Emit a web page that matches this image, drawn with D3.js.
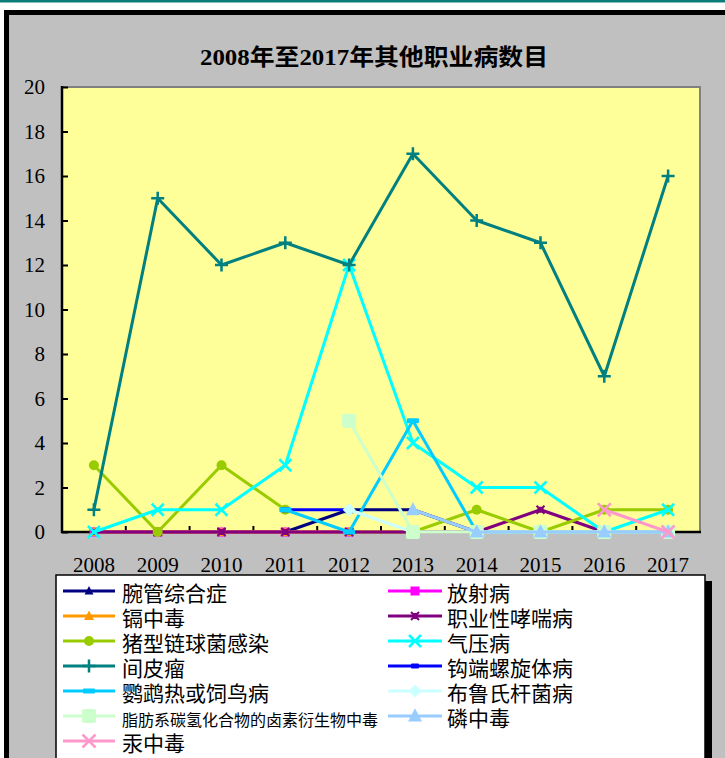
<!DOCTYPE html>
<html><head><meta charset="utf-8">
<script src="https://cdn.jsdelivr.net/npm/d3@7"></script>
<style>body{margin:0;background:#fff;} svg{display:block;}</style>
</head><body>
<svg id="c" width="725" height="758"></svg>
<script>
const title = "2008年至2017年其他职业病数目";
const years = ["2008","2009","2010","2011","2012","2013","2014","2015","2016","2017"];
const yTicks = [0,2,4,6,8,10,12,14,16,18,20];
const N = null;
const seriesNames = ["腕管综合症","放射病","镉中毒","职业性哮喘病","猪型链球菌感染","气压病","间皮瘤","钩端螺旋体病","鹦鹉热或饲鸟病","布鲁氏杆菌病","脂肪系碳氢化合物的卤素衍生物中毒","磷中毒","汞中毒"];
const v_wanguan   = [0,0,0,0,1,1,0,0,0,0];
const v_fangshe   = [0,0,0,0,0,N,N,N,N,N];
const v_ge        = [0,0,0,0,0,0,0,0,0,0];
const v_xiaochuan = [0,0,0,0,0,0,0,1,0,0];
const v_zhuxing   = [3,0,3,1,N,0,1,0,1,1];
const v_qiya      = [0,1,1,3,12,4,2,2,0,1];
const v_jianpi    = [1,15,12,13,12,17,14,13,7,16];
const v_goubuan   = [N,N,N,1,1,N,N,N,N,N];
const v_yingwu    = [N,N,N,1,0,5,0,0,0,0];
const v_bulu      = [N,N,N,N,1,0,0,0,0,0];
const v_zhifang   = [N,N,N,N,5,0,0,0,0,0];
const v_lin       = [N,N,N,N,N,1,0,0,0,0];
const v_gong      = [N,N,N,N,N,N,N,N,1,0];
const seriesValues = [v_wanguan,v_fangshe,v_ge,v_xiaochuan,v_zhuxing,v_qiya,v_jianpi,v_goubuan,v_yingwu,v_bulu,v_zhifang,v_lin,v_gong];

const colors = ["#000080","#FF00FF","#FF9900","#800080","#99CC00","#00FFFF","#008080","#0000FF","#00CCFF","#CCFFFF","#CCFFCC","#99CCFF","#FF99CC"];
const markers = ["tri","sq","tri","star","circ","x","plus","dash","dash","dia","sqbig","tribig","x"];
const msize = [9,9,10,8,10,12,13,8,12,13,14,14,13];

const svg = d3.select("#c");
svg.append("rect").attr("x",0).attr("y",0).attr("width",725).attr("height",2.5).attr("fill","#0a7d78");
svg.append("rect").attr("x",4).attr("y",10).attr("width",721).attr("height",748).attr("fill","#000");
svg.append("rect").attr("x",9).attr("y",15).attr("width",716).attr("height",743).attr("fill","#C0C0C0");

const L=62,R=700,T=87,B=532;
const x = d3.scaleBand().domain(years).range([L,R]);
const cx = d => x(d)+x.bandwidth()/2;
const y = d3.scaleLinear().domain([0,20]).range([B,T]);

svg.append("rect").attr("x",L).attr("y",T).attr("width",R-L).attr("height",B-T).attr("fill","#FFFF99");
svg.append("path").attr("d",`M${L},${T}H${R}V${B}`).attr("fill","none").attr("stroke","#808080").attr("stroke-width",2);

svg.append("text").attr("x",200).attr("y",65)
  .attr("font-family","'Liberation Serif','Noto Sans CJK SC',serif").attr("font-size",23).attr("font-weight","bold")
  .attr("textLength",348).attr("lengthAdjust","spacingAndGlyphs")
  .text(title);

const yAx = svg.append("g").attr("transform",`translate(${L},0)`)
  .call(d3.axisLeft(y).tickValues(yTicks).tickSize(-6).tickPadding(17).tickFormat(d3.format("d")));
yAx.select(".domain").remove();
yAx.selectAll("line").attr("stroke","#000").attr("stroke-width",2);
yAx.selectAll("text").attr("font-family","'Liberation Serif',serif").attr("font-size",21).attr("fill","#000");
const xAx = svg.append("g").attr("transform",`translate(0,${B})`)
  .call(d3.axisBottom(x).tickSize(0).tickPadding(25));
xAx.select(".domain").remove();
xAx.selectAll("text").attr("font-family","'Liberation Serif',serif").attr("font-size",21).attr("fill","#000");
const bounds = years.slice(1).map(d=>x(d));
svg.append("g").selectAll("line").data(bounds).join("line")
  .attr("x1",d=>d).attr("x2",d=>d).attr("y1",B).attr("y2",B-6).attr("stroke","#000").attr("stroke-width",2);
svg.append("path").attr("d",`M${L},${T-1}V${B}H${R+1}`).attr("fill","none").attr("stroke","#000").attr("stroke-width",2.5);

function drawMarker(g, type, px, py, s, col){
  const h=s/2;
  if(type==="tri"||type==="tribig"){
    g.append("path").attr("d",`M${px},${py-h*1.1}L${px+h},${py+h*0.8}L${px-h},${py+h*0.8}Z`).attr("fill",col);
  } else if(type==="sq"||type==="sqbig"){
    g.append("rect").attr("x",px-h).attr("y",py-h).attr("width",s).attr("height",s).attr("rx",type==="sqbig"?2:0).attr("fill",col);
  } else if(type==="circ"){
    g.append("circle").attr("cx",px).attr("cy",py).attr("r",h).attr("fill",col);
  } else if(type==="dia"){
    g.append("path").attr("d",`M${px},${py-h}L${px+h},${py}L${px},${py+h}L${px-h},${py}Z`).attr("fill",col);
  } else if(type==="x"){
    g.append("path").attr("d",`M${px-h},${py-h}L${px+h},${py+h}M${px-h},${py+h}L${px+h},${py-h}`).attr("stroke",col).attr("stroke-width",2.5).attr("fill","none");
  } else if(type==="plus"){
    g.append("path").attr("d",`M${px-h},${py}H${px+h}M${px},${py-h}V${py+h}`).attr("stroke",col).attr("stroke-width",2.5).attr("fill","none");
  } else if(type==="dash"){
    g.append("rect").attr("x",px-h).attr("y",py-2.5).attr("width",s).attr("height",5).attr("rx",1).attr("fill",col);
  } else if(type==="star"){
    g.append("rect").attr("x",px-h+1).attr("y",py-h+1).attr("width",s-2).attr("height",s-2).attr("fill",col);
    g.append("path").attr("d",`M${px-h},${py-h}L${px+h},${py+h}M${px-h},${py+h}L${px+h},${py-h}`).attr("stroke",col).attr("stroke-width",2).attr("fill","none");
  }
}

const line = d3.line().defined(d=>d.v!==null).x(d=>cx(d.yr)).y(d=>y(d.v));
const plotG = svg.append("g");
seriesValues.forEach((vals,i)=>{
  const g = plotG.append("g");
  const pts = years.map((yr,j)=>({yr, v: vals[j]}));
  g.append("path").datum(pts).attr("d",line).attr("fill","none").attr("stroke",colors[i]).attr("stroke-width",3).attr("stroke-linejoin","round");
  pts.filter(p=>p.v!==null).forEach(p=>drawMarker(g, markers[i], cx(p.yr), y(p.v), msize[i], colors[i]));
});

const lg = svg.append("g");
lg.append("rect").attr("x",705).attr("y",581).attr("width",7).attr("height",180).attr("fill","#000");
lg.append("rect").attr("x",56).attr("y",575).attr("width",649).attr("height",190).attr("fill","#fff").attr("stroke","#000").attr("stroke-width",1.5);
seriesNames.forEach((name,i)=>{
  const col = i%2, row = Math.floor(i/2);
  const x0 = col===0?63:388, x1 = col===0?115:442, tx = col===0?122:447;
  const yy = 591 + row*25;
  lg.append("line").attr("x1",x0).attr("x2",x1).attr("y1",yy).attr("y2",yy).attr("stroke",colors[i]).attr("stroke-width",3);
  drawMarker(lg, markers[i], (x0+x1)/2, yy, msize[i], colors[i]);
  const long = name.length>10;
  lg.append("text").attr("x",tx).attr("y",long?yy+10:yy+10)
    .attr("font-family","'Noto Sans CJK SC',sans-serif")
    .attr("font-size", long?16:21).attr("fill","#000").text(name);
});
</script>
</body></html>
